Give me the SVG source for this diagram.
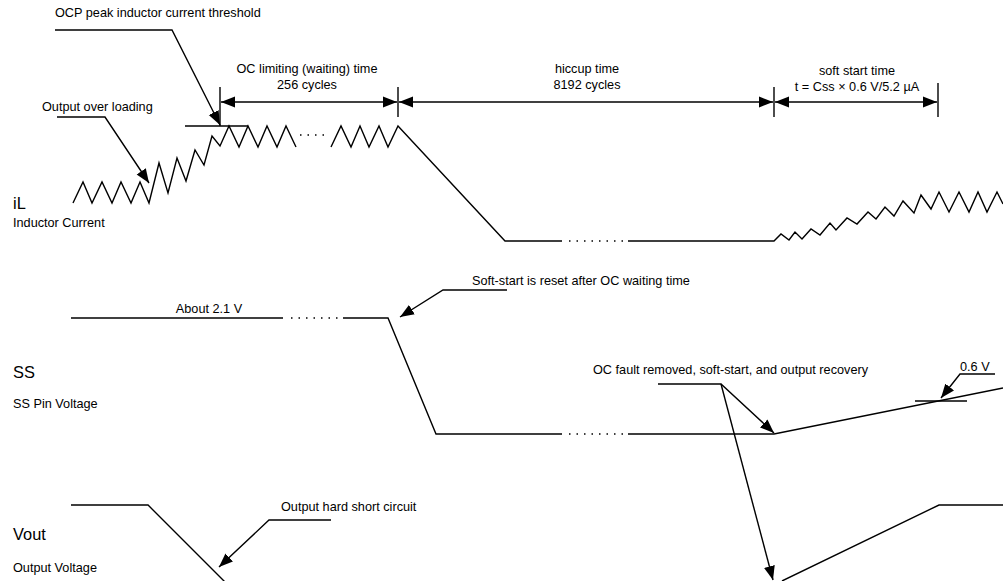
<svg xmlns="http://www.w3.org/2000/svg" width="1003" height="581" viewBox="0 0 1003 581">
<style>
.w{fill:none;stroke:#000;stroke-width:1.4;stroke-linejoin:miter}
.d{fill:none;stroke:#000;stroke-width:1.4;stroke-dasharray:1.5 6}
.l{fill:none;stroke:#000;stroke-width:1.4}
.t{font-family:"Liberation Sans",Arial,sans-serif;font-size:12.7px;fill:#000}
.c{text-anchor:middle}
.b{font-family:"Liberation Sans",Arial,sans-serif;font-size:16.4px;fill:#000}
</style>
<defs>
<marker id="ah" markerUnits="userSpaceOnUse" markerWidth="16" markerHeight="14" refX="14" refY="5.5" orient="auto-start-reverse" viewBox="0 0 16 11">
<path d="M0,0 L14,5.5 L0,11 z" fill="#000"/>
</marker>
</defs>
<rect width="1003" height="581" fill="#fff"/>

<g id="labels">
<text class="b" x="13" y="209">iL</text>
<text class="t" x="13" y="227">Inductor Current</text>
<text class="b" x="13" y="378">SS</text>
<text class="t" x="13" y="408">SS Pin Voltage</text>
<text class="b" x="13" y="540">Vout</text>
<text class="t" x="13" y="572">Output Voltage</text>
</g>

<g id="iL-waveform">
<polyline class="w" points="73,203 83,182 92,203 102,182 112,203 121,182 131,203 140,182 149,203 159,163 168,193 177,158 186,181 195,150 204,165 212,136 220,146 229,126 239,147 248,126 258,147 267,126 277,147 286,126 296,147"/>
<line class="d" x1="300" y1="135" x2="330" y2="135"/>
<polyline class="w" points="331,147 341,126 351,147 360,126 369,147 379,126 388,147 398,126 505,241 562,241"/>
<line class="d" x1="569" y1="241" x2="624" y2="241"/>
<polyline class="w" points="628,241 774,241 781,234 789,240 795,232 802,239 811,229 820,235 830,223 836,230 847,218 857,224 868,212 876,219 885,207 894,216 903,201 914,213 921,195 931,209 939,192 949,212 959,192 969,212 978,192 987,212 997,192 1003,204"/>
<line class="l" x1="185" y1="126" x2="248" y2="126"/>
</g>

<g id="SS-waveform">
<line class="l" x1="71" y1="318" x2="283" y2="318"/>
<line class="d" x1="291" y1="318" x2="342" y2="318"/>
<polyline class="w" points="343,318 388,318 436,434 562,434"/>
<line class="d" x1="569" y1="434" x2="624" y2="434"/>
<polyline class="w" points="628,434 774,434 1003,388"/>
<line class="l" x1="915" y1="401" x2="967" y2="401"/>
</g>

<g id="Vout-waveform">
<polyline class="w" points="71,505 148,505 225,582"/>
<polyline class="w" points="782,581 939,505 1003,505"/>
</g>

<g id="dimensions">
<line class="l" x1="220" y1="87" x2="220" y2="126"/>
<line class="l" x1="398" y1="87" x2="398" y2="117"/>
<line class="l" x1="774" y1="87" x2="774" y2="117"/>
<line class="l" x1="938" y1="83" x2="938" y2="117"/>
<line class="l" x1="221" y1="102" x2="397" y2="102" marker-start="url(#ah)" marker-end="url(#ah)"/>
<line class="l" x1="399" y1="102" x2="773" y2="102" marker-start="url(#ah)" marker-end="url(#ah)"/>
<line class="l" x1="775" y1="102" x2="937" y2="102" marker-start="url(#ah)" marker-end="url(#ah)"/>
<text class="t c" x="307" y="73">OC limiting (waiting) time</text>
<text class="t c" x="307" y="89">256 cycles</text>
<text class="t c" x="587" y="73">hiccup time</text>
<text class="t c" x="587" y="89">8192 cycles</text>
<text class="t c" x="857" y="75">soft start time</text>
<text class="t c" x="857" y="91">t = Css × 0.6 V/5.2 µA</text>
</g>

<g id="connectors">
<polyline class="l" points="55,30 172,30 220,125" marker-end="url(#ah)"/>
<polyline class="l" points="57,117 105,117 149,183" marker-end="url(#ah)"/>
<polyline class="l" points="507,290 443,290 400,317" marker-end="url(#ah)"/>
<polyline class="l" points="658,384 721,384 774,433" marker-end="url(#ah)"/>
<polyline class="l" points="721,384 773,580" marker-end="url(#ah)"/>
<polyline class="l" points="995,374 960,374 941,398" marker-end="url(#ah)"/>
<polyline class="l" points="331,520 269,520 219,567" marker-end="url(#ah)"/>
</g>

<g id="annotations">
<text class="t" x="55" y="17">OCP peak inductor current threshold</text>
<text class="t" x="42" y="111">Output over loading</text>
<text class="t" x="472" y="285">Soft-start is reset after OC waiting time</text>
<text class="t" x="209" y="313" text-anchor="middle">About 2.1 V</text>
<text class="t" x="593" y="374">OC fault removed, soft-start, and output recovery</text>
<text class="t" x="960" y="371">0.6 V</text>
<text class="t" x="281" y="511">Output hard short circuit</text>
</g>
</svg>
